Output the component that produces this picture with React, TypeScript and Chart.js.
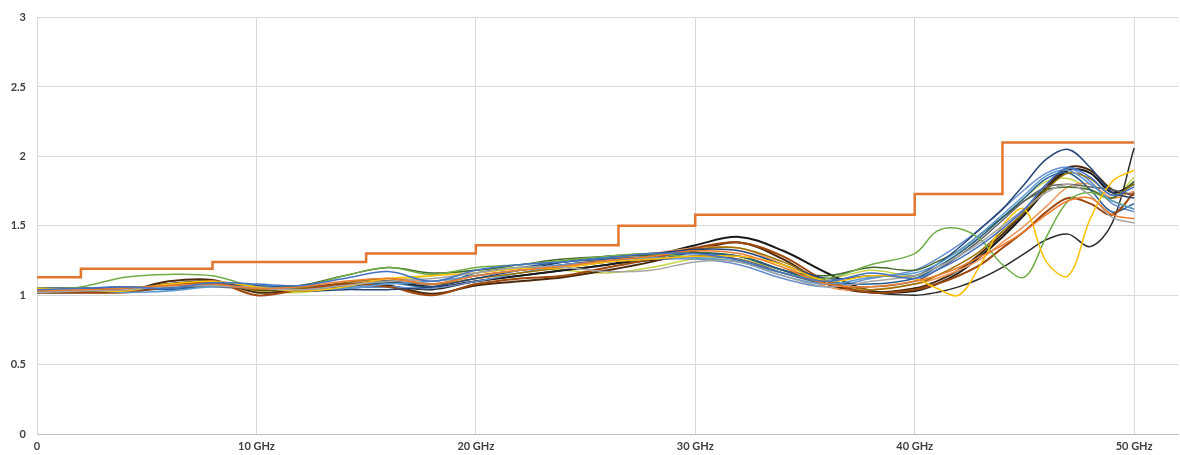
import React, { useEffect, useRef } from "react";
import { Chart, registerables } from "chart.js";

Chart.register(...registerables);

// Frequency grid (GHz)
const FREQ = [0, 2, 4, 6, 8, 10, 12, 14, 16, 18, 20, 22, 24, 26, 28, 30, 32, 34, 36, 38, 40, 41, 42, 43, 44, 45, 46, 47, 48, 49, 50];

// Limit line (stepped)
const LIMIT_FREQ = [0, 2, 8, 15, 20, 26.5, 30, 40, 44, 50];
const LIMIT_VALUES = [1.13, 1.19, 1.24, 1.3, 1.36, 1.5, 1.58, 1.73, 2.1, 2.1];

const X_TICKS = [0, 10, 20, 30, 40, 50];

const S_BLUE = [1.04, 1.05, 1.06, 1.05, 1.09, 1.08, 1.07, 1.12, 1.17, 1.10, 1.18, 1.22, 1.24, 1.27, 1.30, 1.30, 1.25, 1.16, 1.10, 1.16, 1.12, 1.18, 1.26, 1.36, 1.48, 1.62, 1.80, 1.92, 1.85, 1.72, 1.78];
const S_ORANGE = [1.03, 1.04, 1.05, 1.07, 1.08, 1.05, 1.06, 1.10, 1.12, 1.08, 1.14, 1.18, 1.21, 1.25, 1.28, 1.32, 1.30, 1.20, 1.08, 1.06, 1.10, 1.14, 1.20, 1.28, 1.36, 1.46, 1.58, 1.68, 1.70, 1.58, 1.55];
const S_GRAY = [1.02, 1.03, 1.04, 1.06, 1.07, 1.05, 1.04, 1.07, 1.10, 1.12, 1.16, 1.20, 1.20, 1.17, 1.18, 1.24, 1.24, 1.14, 1.06, 1.10, 1.14, 1.20, 1.28, 1.38, 1.50, 1.62, 1.74, 1.80, 1.72, 1.56, 1.52];
const S_YELLOW = [1.05, 1.04, 1.03, 1.08, 1.10, 1.06, 1.03, 1.06, 1.12, 1.14, 1.16, 1.19, 1.20, 1.24, 1.26, 1.28, 1.28, 1.22, 1.10, 1.14, 1.12, 1.05, 1.00, 1.22, 1.50, 1.62, 1.24, 1.14, 1.55, 1.82, 1.90];
const S_LIGHTBLUE = [1.03, 1.04, 1.02, 1.03, 1.06, 1.06, 1.04, 1.05, 1.08, 1.10, 1.14, 1.18, 1.22, 1.24, 1.27, 1.27, 1.24, 1.14, 1.08, 1.13, 1.16, 1.22, 1.32, 1.44, 1.58, 1.72, 1.86, 1.90, 1.80, 1.68, 1.62];
const S_GREEN = [1.04, 1.06, 1.13, 1.15, 1.14, 1.06, 1.06, 1.14, 1.20, 1.15, 1.20, 1.22, 1.25, 1.28, 1.30, 1.27, 1.24, 1.16, 1.12, 1.22, 1.30, 1.46, 1.48, 1.40, 1.22, 1.13, 1.42, 1.68, 1.74, 1.68, 1.62];
const S_DARKBLUE = [1.05, 1.05, 1.04, 1.06, 1.08, 1.06, 1.03, 1.04, 1.04, 1.06, 1.12, 1.18, 1.24, 1.28, 1.30, 1.33, 1.32, 1.22, 1.12, 1.14, 1.14, 1.22, 1.34, 1.48, 1.62, 1.80, 1.98, 2.05, 1.92, 1.74, 1.70];
const S_BROWN = [1.02, 1.02, 1.02, 1.06, 1.10, 1.00, 1.04, 1.08, 1.06, 1.00, 1.08, 1.12, 1.14, 1.20, 1.26, 1.34, 1.38, 1.28, 1.10, 1.02, 1.04, 1.08, 1.14, 1.22, 1.34, 1.46, 1.60, 1.70, 1.66, 1.58, 1.74];
const S_DARKGRAY = [1.04, 1.04, 1.05, 1.07, 1.06, 1.05, 1.06, 1.08, 1.10, 1.08, 1.14, 1.18, 1.22, 1.25, 1.26, 1.28, 1.26, 1.16, 1.08, 1.06, 1.10, 1.18, 1.28, 1.40, 1.54, 1.68, 1.78, 1.80, 1.78, 1.76, 1.72];
const S_DARKYELLOW = [1.03, 1.03, 1.04, 1.08, 1.08, 1.04, 1.05, 1.09, 1.12, 1.08, 1.12, 1.16, 1.20, 1.24, 1.28, 1.33, 1.34, 1.24, 1.10, 1.04, 1.08, 1.14, 1.22, 1.32, 1.46, 1.60, 1.76, 1.88, 1.84, 1.72, 1.80];
const S_MIDBLUE = [1.04, 1.04, 1.06, 1.04, 1.07, 1.07, 1.05, 1.06, 1.09, 1.06, 1.16, 1.20, 1.24, 1.26, 1.28, 1.30, 1.28, 1.18, 1.10, 1.08, 1.12, 1.20, 1.30, 1.42, 1.56, 1.70, 1.84, 1.88, 1.76, 1.60, 1.66];
const S_DARKGREEN = [1.05, 1.05, 1.05, 1.05, 1.09, 1.06, 1.07, 1.14, 1.20, 1.16, 1.18, 1.22, 1.26, 1.28, 1.29, 1.31, 1.28, 1.18, 1.14, 1.20, 1.18, 1.24, 1.32, 1.44, 1.56, 1.68, 1.76, 1.78, 1.76, 1.70, 1.82];
const S_SKYBLUE = [1.02, 1.03, 1.03, 1.05, 1.08, 1.07, 1.03, 1.05, 1.06, 1.05, 1.10, 1.16, 1.22, 1.24, 1.26, 1.26, 1.22, 1.12, 1.06, 1.12, 1.18, 1.26, 1.36, 1.48, 1.62, 1.76, 1.88, 1.92, 1.82, 1.66, 1.60];
const S_LIGHTORANGE = [1.03, 1.04, 1.05, 1.07, 1.10, 1.06, 1.05, 1.08, 1.12, 1.10, 1.14, 1.18, 1.22, 1.26, 1.30, 1.34, 1.34, 1.22, 1.06, 1.04, 1.08, 1.12, 1.18, 1.26, 1.38, 1.50, 1.64, 1.78, 1.80, 1.70, 1.75];
const S_BLACK = [1.02, 1.02, 1.03, 1.08, 1.10, 1.04, 1.05, 1.08, 1.10, 1.06, 1.10, 1.14, 1.18, 1.22, 1.28, 1.36, 1.42, 1.32, 1.16, 1.03, 1.03, 1.08, 1.16, 1.28, 1.42, 1.58, 1.76, 1.90, 1.88, 1.74, 1.80];
const S_DARKBROWN = [1.03, 1.03, 1.03, 1.10, 1.11, 1.02, 1.04, 1.08, 1.07, 1.01, 1.07, 1.10, 1.13, 1.18, 1.24, 1.32, 1.38, 1.26, 1.08, 1.02, 1.05, 1.10, 1.18, 1.30, 1.44, 1.60, 1.78, 1.92, 1.90, 1.76, 1.72];
const S_LOWBLACK = [1.04, 1.04, 1.04, 1.05, 1.07, 1.05, 1.03, 1.05, 1.06, 1.04, 1.10, 1.14, 1.18, 1.22, 1.25, 1.28, 1.28, 1.18, 1.08, 1.02, 1.00, 1.02, 1.06, 1.12, 1.20, 1.30, 1.40, 1.44, 1.35, 1.52, 2.06];
const S_LIME = [1.04, 1.05, 1.04, 1.06, 1.07, 1.03, 1.02, 1.06, 1.10, 1.14, 1.18, 1.20, 1.18, 1.16, 1.20, 1.26, 1.26, 1.18, 1.12, 1.18, 1.14, 1.20, 1.30, 1.42, 1.56, 1.70, 1.82, 1.84, 1.76, 1.70, 1.85];

const SERIES: [number[], string, number][] = [
  [S_BLUE, "#4472C4", 1.5],
  [S_ORANGE, "#ED7D31", 1.5],
  [S_GRAY, "#A5A5A5", 1.5],
  [S_YELLOW, "#FFC000", 1.5],
  [S_LIGHTBLUE, "#5B9BD5", 1.5],
  [S_GREEN, "#70AD47", 1.5],
  [S_DARKBLUE, "#264478", 1.5],
  [S_BROWN, "#9E480E", 2],
  [S_DARKGRAY, "#636363", 1.5],
  [S_DARKYELLOW, "#997300", 1.5],
  [S_MIDBLUE, "#255E91", 1.5],
  [S_DARKGREEN, "#43682B", 1.5],
  [S_SKYBLUE, "#698ED0", 1.5],
  [S_LIGHTORANGE, "#F1975A", 1.5],
  [S_BLACK, "#1A1A1A", 2],
  [S_DARKBROWN, "#4B2A0E", 2],
  [S_LOWBLACK, "#2B2B2B", 1.5],
  [S_LIME, "#C9D64A", 1.5],
];

export default function App() {
  const ref = useRef<HTMLCanvasElement | null>(null);

  useEffect(() => {
    if (!ref.current) return;
    const datasets: any[] = [
      {
        data: LIMIT_FREQ.map((f, i) => ({ x: f, y: LIMIT_VALUES[i] })),
        borderColor: "#E2762F",
        borderWidth: 2.5,
        stepped: "before",
        pointRadius: 0,
        fill: false,
      },
      ...SERIES.map(([vals, color, w]) => ({
        data: FREQ.map((f, i) => ({ x: f, y: vals[i] })),
        borderColor: color,
        borderWidth: w,
        tension: 0.35,
        pointRadius: 0,
        fill: false,
      })),
    ];
    const tickFont = { family: "Lato", size: 11, weight: "bold" as const };
    const chart = new Chart(ref.current, {
      type: "line",
      data: { datasets },
      options: {
        animation: false,
        responsive: false,
        layout: { padding: { top: 12, right: 2, left: 0, bottom: 0 } },
        plugins: { legend: { display: false }, tooltip: { enabled: false } },
        scales: {
          x: {
            type: "linear",
            min: 0,
            max: 52,
            afterBuildTicks: (s: any) => {
              s.ticks = X_TICKS.map((v) => ({ value: v }));
            },
            afterFit: (s: any) => {
              s.height = 21;
            },
            grid: { color: "#D9D9D9", drawTicks: false },
            border: { color: "#BFBFBF" },
            ticks: {
              padding: 6,
              color: "#404040",
              font: tickFont,
              maxRotation: 0,
              callback: (v: any) => (v === 0 ? "0" : `${v} GHz`),
            },
          },
          y: {
            min: 0,
            max: 3,
            afterFit: (s: any) => {
              s.width = 37;
            },
            grid: { color: "#D9D9D9", drawTicks: false },
            border: { color: "#D9D9D9" },
            ticks: {
              stepSize: 0.5,
              padding: 11,
              color: "#404040",
              font: tickFont,
              callback: (v: any) => String(Number(v)),
            },
          },
        },
      },
    });
    return () => chart.destroy();
  }, []);

  return (
    <div style={{ position: "absolute", left: 0, top: 0, width: 1180, height: 455, background: "#fff" }}>
      <canvas ref={ref} width={1180} height={455} style={{ display: "block" }} />
    </div>
  );
}
